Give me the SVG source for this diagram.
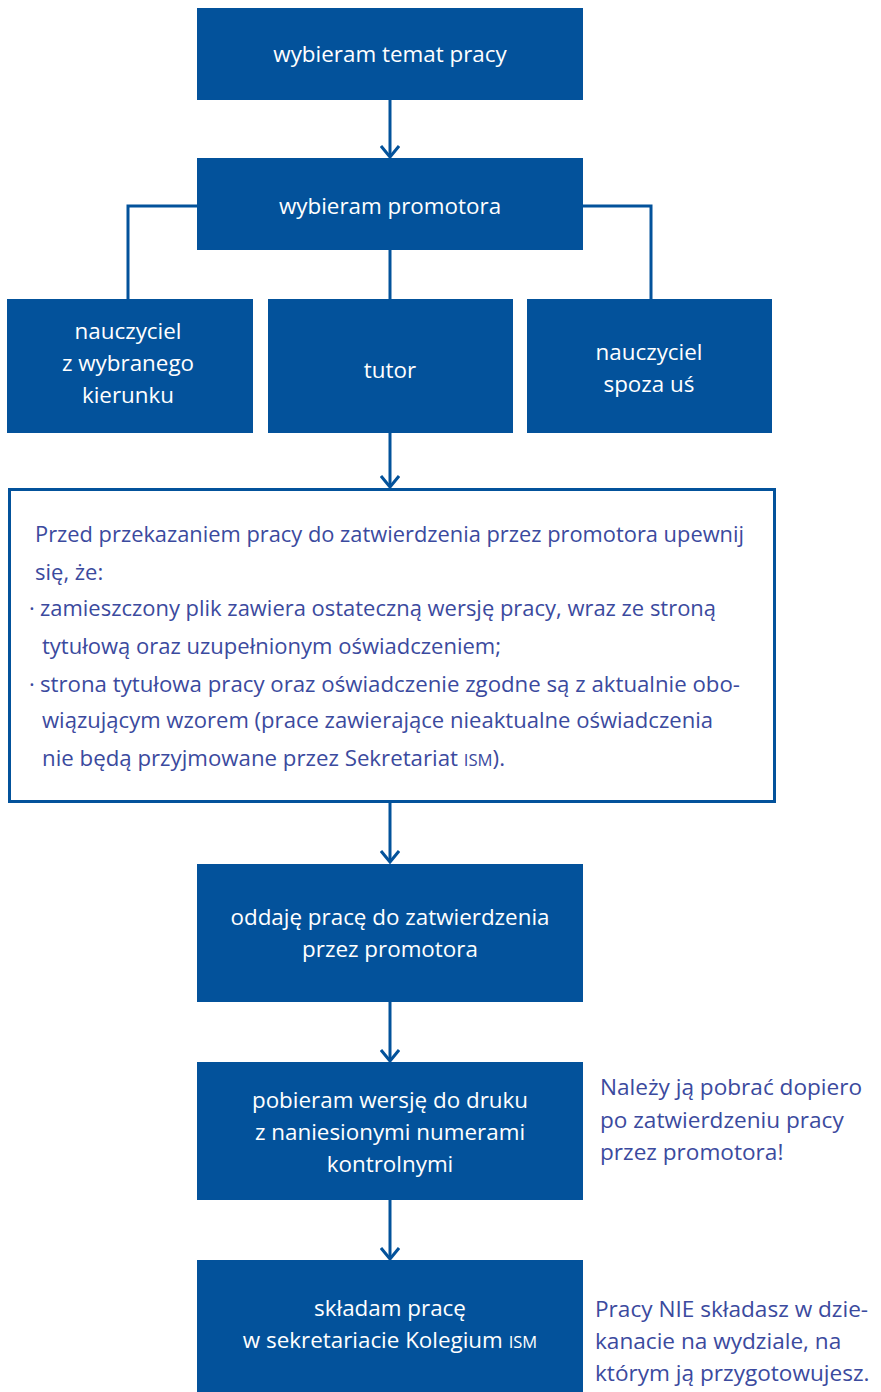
<svg xmlns="http://www.w3.org/2000/svg" width="881" height="1392" viewBox="0 0 881 1392">
<style>
.box{fill:#03529b}
.bt{font-family:"Open Sans","Noto Sans",sans-serif;font-size:22.4px;fill:#ffffff;text-anchor:middle}
.pt{font-family:"Open Sans","Noto Sans",sans-serif;font-size:22px;fill:#3b4a9e}
.nt{font-family:"Open Sans","Noto Sans",sans-serif;font-size:22.6px;fill:#3b4a9e}
.ln{fill:none;stroke:#03529b;stroke-width:3}
.sc{font-size:16.5px}
</style>
<defs>
<marker id="ah" viewBox="0 0 20 20" refX="18" refY="10" markerWidth="20" markerHeight="20" markerUnits="userSpaceOnUse" orient="auto">
<path d="M7,1 L18,10 L7,19" fill="none" stroke="#03529b" stroke-width="3"/>
</marker>
</defs>
<rect width="881" height="1392" fill="#ffffff"/>
<g id="connectors">
<path class="ln" d="M390,100 V157" marker-end="url(#ah)"/>
<path class="ln" d="M197,206 H128 V299"/>
<path class="ln" d="M583,206 H651 V299"/>
<path class="ln" d="M390,250 V299"/>
<path class="ln" d="M390,433 V487" marker-end="url(#ah)"/>
<path class="ln" d="M390,802 V862" marker-end="url(#ah)"/>
<path class="ln" d="M390,1002 V1061" marker-end="url(#ah)"/>
<path class="ln" d="M390,1200 V1259" marker-end="url(#ah)"/>
</g>
<g id="n1"><rect class="box" x="197" y="8" width="386" height="92"/><text class="bt" x="390" y="62">wybieram temat pracy</text></g>
<g id="n2"><rect class="box" x="197" y="158" width="386" height="92"/><text class="bt" x="390" y="214">wybieram promotora</text></g>
<g id="n3"><rect class="box" x="7" y="299" width="246" height="134"/><text class="bt" x="128" y="339">nauczyciel</text><text class="bt" x="128" y="371">z wybranego</text><text class="bt" x="128" y="403">kierunku</text></g>
<g id="n4"><rect class="box" x="268" y="299" width="245" height="134"/><text class="bt" x="390" y="378">tutor</text></g>
<g id="n5"><rect class="box" x="527" y="299" width="245" height="134"/><text class="bt" x="649" y="360">nauczyciel</text><text class="bt" x="649" y="392">spoza uś</text></g>
<g id="n6"><rect x="9.5" y="489.5" width="765" height="312" fill="#ffffff" stroke="#03529b" stroke-width="3"/>
<text class="pt" x="35" y="542" textLength="709" lengthAdjust="spacingAndGlyphs">Przed przekazaniem pracy do zatwierdzenia przez promotora upewnij</text>
<text class="pt" x="35" y="580">się, że:</text>
<text class="pt" x="29" y="616">·</text>
<text class="pt" x="40" y="616" textLength="676" lengthAdjust="spacingAndGlyphs">zamieszczony plik zawiera ostateczną wersję pracy, wraz ze stroną</text>
<text class="pt" x="42" y="654" textLength="459" lengthAdjust="spacingAndGlyphs">tytułową oraz uzupełnionym oświadczeniem;</text>
<text class="pt" x="29" y="692">·</text>
<text class="pt" x="40" y="692" textLength="700" lengthAdjust="spacingAndGlyphs">strona tytułowa pracy oraz oświadczenie zgodne są z aktualnie obo-</text>
<text class="pt" x="42" y="728" textLength="671" lengthAdjust="spacingAndGlyphs">wiązującym wzorem (prace zawierające nieaktualne oświadczenia</text>
<text class="pt" x="42" y="766" textLength="463" lengthAdjust="spacingAndGlyphs">nie będą przyjmowane przez Sekretariat <tspan class="sc">ISM</tspan>).</text>
</g>
<g id="n7"><rect class="box" x="197" y="864" width="386" height="138"/><text class="bt" x="390" y="925">oddaję pracę do zatwierdzenia</text><text class="bt" x="390" y="957">przez promotora</text></g>
<g id="n8"><rect class="box" x="197" y="1062" width="386" height="138"/><text class="bt" x="390" y="1108">pobieram wersję do druku</text><text class="bt" x="390" y="1140">z naniesionymi numerami</text><text class="bt" x="390" y="1172">kontrolnymi</text></g>
<g id="note1"><text class="nt" x="600" y="1095">Należy ją pobrać dopiero</text><text class="nt" x="600" y="1128">po zatwierdzeniu pracy</text><text class="nt" x="600" y="1160">przez promotora!</text></g>
<g id="n9"><rect class="box" x="197" y="1260" width="386" height="132"/><text class="bt" x="390" y="1316">składam pracę</text><text class="bt" x="390" y="1348">w sekretariacie Kolegium <tspan class="sc">ISM</tspan></text></g>
<g id="note2"><text class="nt" x="595" y="1317">Pracy NIE składasz w dzie-</text><text class="nt" x="595" y="1349">kanacie na wydziale, na</text><text class="nt" x="595" y="1381">którym ją przygotowujesz.</text></g>
</svg>
